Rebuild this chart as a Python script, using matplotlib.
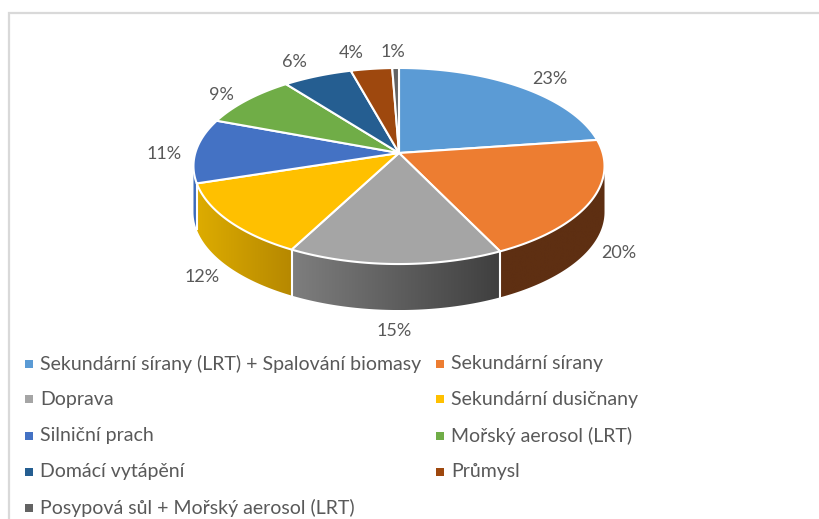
import numpy as np
import matplotlib
matplotlib.use('Agg')
import matplotlib.pyplot as plt
from matplotlib.colors import LinearSegmentedColormap
from matplotlib.patches import Polygon

labels = ['Sekundární sírany (LRT) + Spalování biomasy', 'Sekundární sírany', 'Doprava',
          'Sekundární dusičnany', 'Silniční prach', 'Mořský aerosol (LRT)',
          'Domácí vytápění', 'Průmysl', 'Posypová sůl + Mořský aerosol (LRT)']
values = [22.8, 20.0, 14.9, 12.4, 10.6, 8.8, 6.2, 3.7, 0.6]
colors = ['#5B9BD5', '#ED7D31', '#A5A5A5', '#FFC000', '#4472C4', '#70AD47', '#255E91', '#9E480E', '#636363']
side_colors = [('#3F6D95', '#3F6D95'), ('#5E2F12', '#5E2F12'), ('#7E7E7E', '#3F3F3F'),
               ('#DDAC00', '#B68800'), ('#3E6CBB', '#3E6CBB'), ('#4E7A31', '#4E7A31'),
               ('#1A4266', '#1A4266'), ('#6E320A', '#6E320A'), ('#444444', '#444444')]

plt.rcParams['font.family'] = ['Lato', 'DejaVu Sans']
text_col = '#595959'

fig = plt.figure(figsize=(8.19, 5.19), dpi=100)
ax = fig.add_axes([0, 0, 1, 1])

# pie in perspective: unit circle -> pixels
cx, cy, a, b, k = 399, 153, 203.7, 96.3, 0.1327
depth = 46


def project(ang):
    X = np.sin(ang)
    Y = -np.cos(ang)
    d = 1 - k * Y
    return cx + a * X / d, cy + b * Y / d


vals = np.array(values) / np.sum(values)
edges = np.concatenate([[0], np.cumsum(vals)]) * 2 * np.pi
t0, t1 = np.arcsin(k) + np.pi / 2, 3 * np.pi / 2 - np.arcsin(k)

# sides first
for i in range(len(vals)):
    lo, hi = max(edges[i], t0), min(edges[i + 1], t1)
    if lo >= hi:
        continue
    t = np.linspace(lo, hi, 80)
    x, y = project(t)
    xy = np.r_[np.c_[x, y], np.c_[x[::-1], y[::-1] + depth]]
    poly = Polygon(xy, closed=True, fc='none', ec='none')
    ax.add_patch(poly)
    cmap = LinearSegmentedColormap.from_list('s', [side_colors[i][0], side_colors[i][1]])
    im = ax.imshow(np.linspace(0, 1, 256).reshape(1, -1), cmap=cmap, aspect='auto',
                   extent=[xy[:, 0].min(), xy[:, 0].max(), xy[:, 1].max(), xy[:, 1].min()], zorder=1)
    im.set_clip_path(poly)
    # white seam between side panels
    if edges[i + 1] < t1:
        xs, ys = project(edges[i + 1])
        ax.plot([xs, xs], [ys, ys + depth], color='white', lw=1.5, zorder=2)

# top faces
for i in range(len(vals)):
    t = np.linspace(edges[i], edges[i + 1], 120)
    x, y = project(t)
    xy = np.r_[[[cx, cy]], np.c_[x, y]]
    ax.add_patch(Polygon(xy, closed=True, fc=colors[i], ec='white', lw=1.5, joinstyle='round', zorder=3))

# data labels
label_pos = [(550, 79), (619, 253), (394, 331), (202, 277), (164, 154),
             (221, 95), (294, 62), (351, 53), (393, 52)]
for v, (lx, ly) in zip(values, label_pos):
    ax.text(lx, ly, f'{v:.0f}%', ha='center', va='center', fontsize=13, color=text_col, zorder=5)

# legend
rows = [364, 399, 436, 472, 508]
for i, name in enumerate(labels):
    lx = 40 if i % 2 == 0 else 451
    ly = rows[i // 2]
    ax.scatter([lx - 11], [ly], marker='s', s=30, color=colors[i], linewidths=0, zorder=5)
    ax.text(lx, ly, name, ha='left', va='center', fontsize=14, color=text_col, zorder=5)

# chart frame (cut off at right and bottom)
ax.plot([9, 9, 819], [519, 13, 13], color='#D9D9D9', lw=1.6, solid_joinstyle='miter', zorder=4)

ax.set_xlim(0, 819)
ax.set_ylim(519, 0)
ax.axis('off')

fig.savefig('out.png', dpi=100, facecolor='white')
